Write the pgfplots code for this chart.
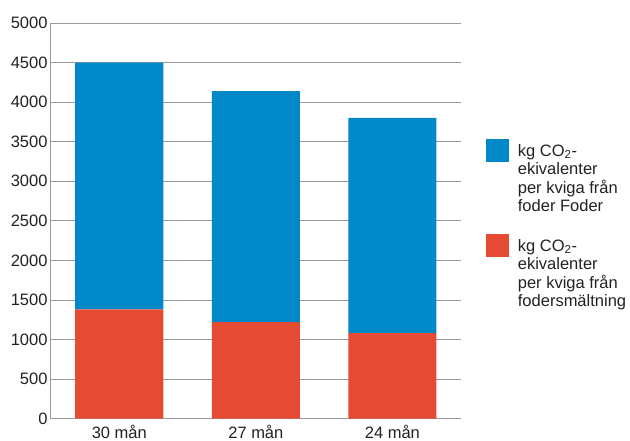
\documentclass[border=0pt]{standalone}
\usepackage{pgfplots}
\pgfplotsset{compat=1.18}
\usepackage{fontspec}
\setmainfont{Liberation Sans}
\definecolor{cblue}{HTML}{0088C8}
\definecolor{cred}{HTML}{E54B33}
\definecolor{gridc}{HTML}{9A9A9A}
\definecolor{txt}{HTML}{222222}
\newcommand{\legtab}[1]{\raisebox{5pt}{\begin{tabular}[t]{@{}l@{}}#1\end{tabular}}}
\begin{document}
\begin{tikzpicture}[x=1pt,y=1pt]
\path[use as bounding box] (0,0) rectangle (630,441);
\begin{axis}[
  at={(51pt,22.3pt)}, anchor=south west,
  scale only axis, width=409.7pt, height=395.7pt,
  xmin=-0.5, xmax=2.5, ymin=0, ymax=5000,
  ybar stacked, bar width=0.645,
  xtick={0,1,2}, xticklabels={30 mån,27 mån,24 mån},
  ytick={0,500,...,5000},
  axis x line*=bottom, axis y line*=left,
  axis line style={-, gridc, line width=1pt},
  ymajorgrids, grid style={gridc, line width=0.8pt},
  major tick length=0pt,
  tick label style={font=\fontsize{16.5}{18}\selectfont, text=txt},
  xticklabel style={yshift=-3pt},
  /pgf/number format/assume math mode=true,
  scaled y ticks=false,
  yticklabel style={/pgf/number format/1000 sep={}},
  reverse legend,
  legend cell align=left,
  legend image code/.code={\fill[#1] (0pt,-9pt) rectangle (23pt,14pt); \path (0pt,-60.4pt);},
  legend style={at={(1,1)}, anchor=north west, xshift=25.3pt, yshift=-116pt,
    draw=none, fill=none, inner sep=0pt, row sep=20.6pt, column sep=8.7pt,
    nodes={inner sep=0pt, font=\fontsize{16.5}{18.3}\selectfont, text=txt}},
]
\addplot[fill=cred, draw=none] coordinates {(0,1380) (1,1220) (2,1080)};
\addlegendentry{\legtab{kg CO\textsubscript{2}-\\ekivalenter\\per kviga från\\fodersmältning}}
\addplot[fill=cblue, draw=none] coordinates {(0,3120) (1,2920) (2,2720)};
\addlegendentry{\legtab{kg CO\textsubscript{2}-\\ekivalenter\\per kviga från\\foder Foder}}
\end{axis}
\end{tikzpicture}
\end{document}
